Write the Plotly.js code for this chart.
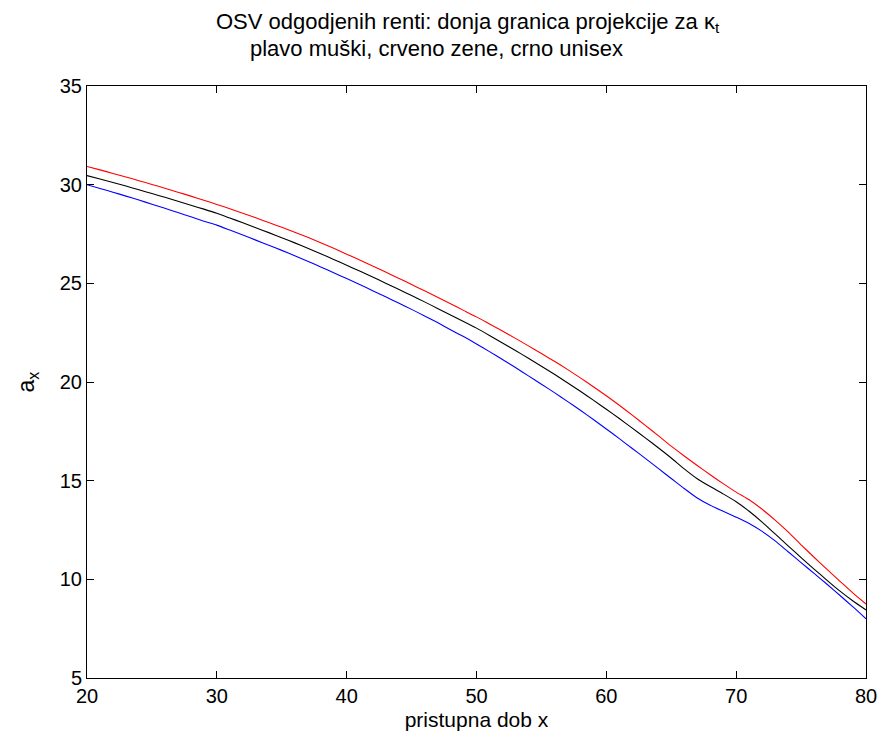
<!DOCTYPE html>
<html>
<head>
<meta charset="utf-8">
<script src="https://cdn.plot.ly/plotly-3.0.1.min.js"></script>
<style>html,body{margin:0;padding:0;background:#fff;}#chart{width:884px;height:744px;}</style>
</head>
<body>
<div id="chart"></div>
<script>
// Entry age x
const ages = [20,21,22,23,24,25,26,27,28,29,30,31,32,33,34,35,36,37,38,39,40,41,42,43,44,45,46,47,48,49,50,51,52,53,54,55,56,57,58,59,60,61,62,63,64,65,66,67,68,69,70,71,72,73,74,75,76,77,78,79,80];

// Male (blue)
const male = [30.00,29.81,29.62,29.42,29.22,29.01,28.80,28.59,28.37,28.15,27.95,27.70,27.45,27.19,26.93,26.67,26.40,26.12,25.83,25.54,25.24,24.94,24.63,24.32,24.00,23.68,23.35,23.01,22.65,22.30,21.93,21.54,21.14,20.73,20.31,19.89,19.46,19.02,18.57,18.10,17.62,17.13,16.63,16.13,15.62,15.11,14.60,14.12,13.75,13.45,13.15,12.83,12.43,11.95,11.40,10.85,10.30,9.75,9.18,8.60,8.00];

// Female (red)
const female = [30.92,30.75,30.57,30.39,30.20,30.01,29.82,29.62,29.42,29.21,29.00,28.78,28.55,28.32,28.08,27.84,27.59,27.33,27.06,26.78,26.48,26.18,25.88,25.57,25.26,24.94,24.62,24.29,23.96,23.63,23.30,22.94,22.58,22.21,21.83,21.44,21.05,20.64,20.21,19.76,19.30,18.82,18.32,17.80,17.28,16.75,16.25,15.77,15.30,14.85,14.42,14.03,13.55,13.00,12.40,11.75,11.12,10.50,9.90,9.30,8.75];

// Unisex (black)
const unisex = [30.46,30.29,30.11,29.93,29.74,29.55,29.36,29.16,28.96,28.76,28.55,28.31,28.07,27.82,27.57,27.31,27.05,26.78,26.50,26.21,25.92,25.62,25.32,25.01,24.70,24.38,24.06,23.73,23.40,23.07,22.73,22.36,21.98,21.60,21.20,20.80,20.39,19.96,19.53,19.08,18.62,18.15,17.66,17.17,16.67,16.15,15.60,15.10,14.70,14.33,13.93,13.45,12.90,12.30,11.70,11.10,10.52,9.95,9.40,8.90,8.45];

const xTicks = [20,30,40,50,60,70,80];
const yTicks = [5,10,15,20,25,30,35];

const titleLine1 = 'OSV odgodjenih renti: donja granica projekcije za κ<sub>t</sub>';
const titleLine2 = 'plavo muški, crveno zene, crno unisex';

const FONT = 'Liberation Sans, Arial, sans-serif';

const traces = [
  {x: ages, y: male, mode: 'lines', line: {color: '#0000ff', width: 1.1, shape: 'spline', smoothing: 0.6}, name: 'muški'},
  {x: ages, y: unisex, mode: 'lines', line: {color: '#000000', width: 1.1, shape: 'spline', smoothing: 0.6}, name: 'unisex'},
  {x: ages, y: female, mode: 'lines', line: {color: '#ff0000', width: 1.1, shape: 'spline', smoothing: 0.6}, name: 'zene'}
];

const axisCommon = {
  showgrid: false, zeroline: false, showline: true, linecolor: '#000', linewidth: 1,
  mirror: 'allticks', ticks: 'inside', ticklen: 7, tickcolor: '#000', tickwidth: 1,
  tickfont: {family: FONT, size: 20, color: '#000'}
};

const layout = {
  width: 884, height: 744,
  paper_bgcolor: '#fff', plot_bgcolor: '#fff',
  margin: {l: 87, r: 18, t: 86, b: 66},
  showlegend: false,
  font: {family: FONT, color: '#000'},
  title: {
    text: titleLine1,
    font: {family: FONT, size: 22, color: '#000'},
    xref: 'container', yref: 'container',
    x: 0.529, y: 0.972, xanchor: 'center', yanchor: 'middle'
  },
  annotations: [{
    text: titleLine2, xref: 'paper', yref: 'paper',
    x: 0.449, y: 1.064, xanchor: 'center', yanchor: 'middle', showarrow: false,
    font: {family: FONT, size: 22, color: '#000'}
  }],
  xaxis: Object.assign({}, axisCommon, {
    range: [20, 80], tickvals: xTicks, ticktext: xTicks.map(String),
    title: {text: 'pristupna dob x', font: {family: FONT, size: 21, color: '#000'}, standoff: 6}
  }),
  yaxis: Object.assign({}, axisCommon, {
    range: [5, 35], tickvals: yTicks, ticktext: yTicks.map(String),
    title: {text: 'a<sub>x</sub>', font: {family: FONT, size: 23, color: '#000'}, standoff: 18}
  })
};

Plotly.newPlot('chart', traces, layout, {displayModeBar: false, staticPlot: true});
</script>
</body>
</html>
